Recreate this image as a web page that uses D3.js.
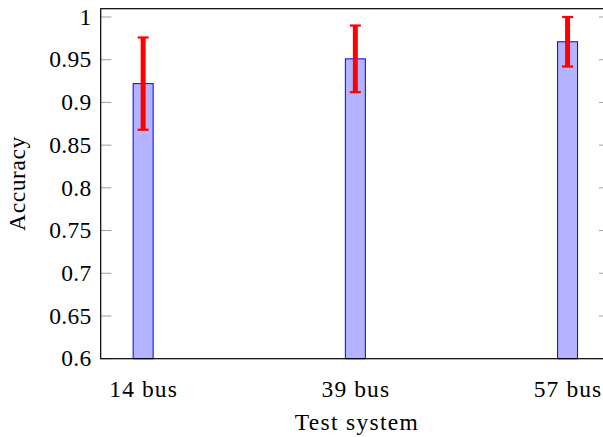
<!DOCTYPE html>
<html><head><meta charset="utf-8">
<script src="https://cdn.jsdelivr.net/npm/d3@7"></script>
<style>
html,body{margin:0;padding:0;background:#fff;}
svg{display:block;}
</style></head>
<body>
<script>
const categories = ["14 bus", "39 bus", "57 bus"];
const accuracy = [0.922, 0.951, 0.971];
const errors = [0.054, 0.039, 0.029];
const yTicks = [0.6, 0.65, 0.7, 0.75, 0.8, 0.85, 0.9, 0.95, 1];
const yTickLabels = ["0.6", "0.65", "0.7", "0.75", "0.8", "0.85", "0.9", "0.95", "1"];

const W = 603, H = 437;
const pLeft = 100.7, pRight = 610, pTop = 8.7, pBottom = 358.7;
const FONT = "'Liberation Serif', 'DejaVu Serif', serif";

const svg = d3.select("body").append("svg").attr("width", W).attr("height", H)
  .style("font-family", FONT);

const x = d3.scaleLinear().domain([-0.2, categories.length - 1 + 0.2]).range([pLeft, pRight]);
const y = d3.scaleLinear().domain([0.6, 1.0097]).range([pBottom, pTop]);

const barW = 20;

// bars
svg.append("g").selectAll("rect").data(accuracy).join("rect")
  .attr("x", (d, i) => x(i) - barW / 2)
  .attr("y", d => y(d))
  .attr("width", barW)
  .attr("height", d => y(0.6) - y(d))
  .attr("fill", "#b3b3ff")
  .attr("stroke", "#0000ff")
  .attr("stroke-width", 1);

// error bars
const eg = svg.append("g").attr("stroke", "#ff0000");
accuracy.forEach((v, i) => {
  eg.append("line").attr("x1", x(i)).attr("x2", x(i))
    .attr("y1", y(v + errors[i])).attr("y2", y(v - errors[i]))
    .attr("stroke-width", 5);
  [v + errors[i], v - errors[i]].forEach(e => {
    eg.append("line").attr("x1", x(i) - 5.5).attr("x2", x(i) + 5.5)
      .attr("y1", y(e)).attr("y2", y(e)).attr("stroke-width", 2.2);
  });
});

// y ticks (inside, both sides)
const tg = svg.append("g").attr("stroke", "#a0a0a0").attr("stroke-width", 1);
yTicks.forEach(t => {
  tg.append("line").attr("x1", pLeft).attr("x2", pLeft + 10.7).attr("y1", y(t)).attr("y2", y(t));
  tg.append("line").attr("x1", pRight - 11).attr("x2", pRight).attr("y1", y(t)).attr("y2", y(t));
});

// frame
svg.append("rect").attr("x", pLeft).attr("y", pTop).attr("width", pRight - pLeft).attr("height", pBottom - pTop)
  .attr("fill", "none").attr("stroke", "#000").attr("stroke-width", 1.2);

// y tick labels
svg.append("g").selectAll("text").data(yTicks).join("text")
  .attr("x", 91.5).attr("y", d => y(d))
  .attr("dy", "0.33em")
  .attr("text-anchor", "end")
  .attr("font-family", FONT)
  .attr("font-size", 23.5)
  .attr("letter-spacing", 0.3)
  .text((d, i) => yTickLabels[i]);

// x tick labels
svg.append("g").selectAll("text").data(categories).join("text")
  .attr("x", (d, i) => x(i) + 0.5).attr("y", 396.7)
  .attr("text-anchor", "middle")
  .attr("font-family", FONT)
  .attr("font-size", 23.5)
  .attr("letter-spacing", 1.1)
  .text(d => d);

// axis titles
svg.append("text").attr("x", 357).attr("y", 430).attr("text-anchor", "middle")
  .attr("font-family", FONT)
  .attr("font-size", 23.5).attr("letter-spacing", 1.3).text("Test system");
svg.append("text").attr("transform", "translate(25,183.5) rotate(-90)")
  .attr("font-family", FONT)
  .attr("text-anchor", "middle").attr("font-size", 23.5).attr("letter-spacing", 0.6).text("Accuracy");
</script>
</body></html>
